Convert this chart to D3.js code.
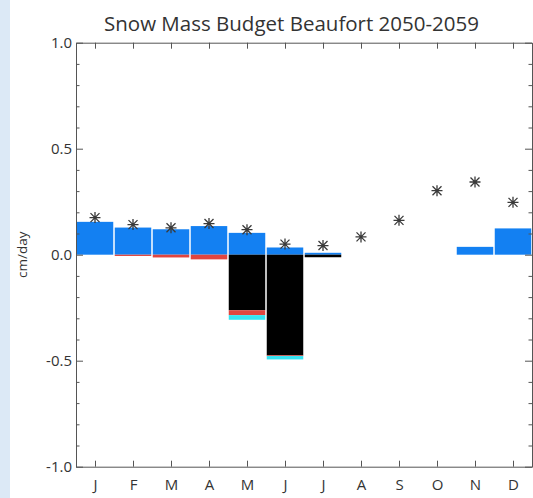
<!DOCTYPE html>
<html>
<head>
<meta charset="utf-8">
<script src="https://cdn.jsdelivr.net/npm/d3@7"></script>
<style>
  html, body { margin: 0; padding: 0; background: #ffffff; }
  svg { display: block; }
</style>
</head>
<body>
<svg id="chart" width="533" height="498"></svg>
<script>
// ---- data ----
const months = ["J","F","M","A","M","J","J","A","S","O","N","D"];
const snowfall    = [0.155, 0.128, 0.120, 0.135, 0.103, 0.034, 0.009, 0, 0, 0, 0.037, 0.124]; // blue, positive
const melt        = [0, 0, 0, 0, -0.262, -0.475, -0.012, 0, 0, 0, 0, 0];                   // black
const sublimation = [0, -0.006, -0.013, -0.022, -0.023, -0.003, 0, 0, 0, 0, 0, 0];         // red
const otherLoss   = [0, 0, 0, 0, -0.022, -0.016, 0, 0, 0, 0, 0, 0];                         // cyan
const netChange   = [0.175, 0.142, 0.127, 0.147, 0.118, 0.050, 0.043, 0.084, 0.162, 0.302, 0.343, 0.247]; // asterisks
const yMajorTicks = [-1.0, -0.5, 0.0, 0.5, 1.0];
const yMinorTicks = [-0.9,-0.8,-0.7,-0.6,-0.4,-0.3,-0.2,-0.1,0.1,0.2,0.3,0.4,0.6,0.7,0.8,0.9];
const title = "Snow Mass Budget Beaufort 2050-2059";
const yLabel = "cm/day";

// ---- layout ----
const svg = d3.select("#chart");
const W = 533, H = 498;
const mLeft = 76, mRight = 532, mTop = 42.7, mBottom = 466.7;
const font = "'Open Sans', 'DejaVu Sans', sans-serif";
const axisColor = "#555";

// left light-blue strip
svg.append("rect").attr("x", 0).attr("y", 0).attr("width", 10).attr("height", H).attr("fill", "#dce9f6");

const x = d3.scaleLinear().domain([0.5, 12.5]).range([mLeft, mRight]);
const y = d3.scaleLinear().domain([-1, 1]).range([mBottom, mTop]);
const idx = d3.range(1, 13);
const barW = 36.5;

// stacked negatives: melt (black), sublimation (red), other (cyan)
const series = [
  {vals: melt, color: "#000000"},
  {vals: sublimation, color: "#e0453f"},
  {vals: otherLoss, color: "#35e3f2"}
];
const gBars = svg.append("g");
gBars.selectAll("rect.snow").data(snowfall).join("rect")
  .attr("class", "snow")
  .attr("x", (d, i) => x(i + 1) - barW / 2)
  .attr("width", barW)
  .attr("y", d => y(Math.max(d, 0)))
  .attr("height", d => Math.abs(y(d) - y(0)))
  .attr("fill", "#1380f2");

const cum = new Array(12).fill(0);
series.forEach(s => {
  const base = cum.slice();
  gBars.selectAll(null).data(s.vals).join("rect")
    .attr("x", (d, i) => x(i + 1) - barW / 2)
    .attr("width", barW)
    .attr("y", (d, i) => y(base[i]))
    .attr("height", (d, i) => Math.abs(y(base[i] + d) - y(base[i])))
    .attr("fill", s.color);
  s.vals.forEach((d, i) => { cum[i] += d; });
});

// asterisks (plus + cross)
const r = 5.5, rd = 4.5;
const star = `M${-r},0L${r},0M0,${-r}L0,${r}M${-rd},${-rd}L${rd},${rd}M${-rd},${rd}L${rd},${-rd}`;
svg.append("g").selectAll("path").data(netChange).join("path")
  .attr("transform", (d, i) => `translate(${x(i + 1)},${y(d)})`)
  .attr("d", star)
  .attr("fill", "none")
  .attr("stroke", "#3a3a3a")
  .attr("stroke-width", 1.3);

// ---- axes (IDL style, inward ticks) ----
function styleAxis(g) {
  g.select(".domain").attr("stroke", axisColor);
  g.selectAll(".tick line").attr("stroke", axisColor);
  g.selectAll(".tick text").attr("fill", "#333").style("font-family", font).style("font-size", "15px");
}
const fmt = d => d3.format(".1f")(d).replace("\u2212", "-");
svg.append("g").attr("transform", `translate(${mLeft},0)`)
  .call(d3.axisLeft(y).tickValues(yMajorTicks).tickSize(-7).tickSizeOuter(0).tickPadding(4).tickFormat(fmt))
  .call(styleAxis);
svg.append("g").attr("transform", `translate(${mLeft},0)`)
  .call(d3.axisLeft(y).tickValues(yMinorTicks).tickSize(-3.5).tickSizeOuter(0).tickFormat(""))
  .call(styleAxis);
svg.append("g").attr("transform", `translate(${mRight},0)`)
  .call(d3.axisRight(y).tickValues(yMajorTicks).tickSize(-7).tickSizeOuter(0).tickFormat(""))
  .call(styleAxis);
svg.append("g").attr("transform", `translate(${mRight},0)`)
  .call(d3.axisRight(y).tickValues(yMinorTicks).tickSize(-3.5).tickSizeOuter(0).tickFormat(""))
  .call(styleAxis);
svg.append("g").attr("transform", `translate(0,${mBottom})`)
  .call(d3.axisBottom(x).tickValues(idx).tickSize(-6).tickSizeOuter(0).tickPadding(13).tickFormat(d => months[d - 1]))
  .call(styleAxis);
svg.append("g").attr("transform", `translate(0,${mTop})`)
  .call(d3.axisTop(x).tickValues(idx).tickSize(-6).tickSizeOuter(0).tickFormat(""))
  .call(styleAxis);

// title
svg.append("text").attr("x", 291.5).attr("y", 31)
  .attr("text-anchor", "middle")
  .style("font-family", font).style("font-size", "20.5px").attr("fill", "#333")
  .text(title);

// y label
svg.append("text").attr("transform", `translate(27,${y(0)}) rotate(-90)`)
  .attr("text-anchor", "middle")
  .style("font-family", font).style("font-size", "13.5px").attr("fill", "#333")
  .text(yLabel);
</script>
</body>
</html>
